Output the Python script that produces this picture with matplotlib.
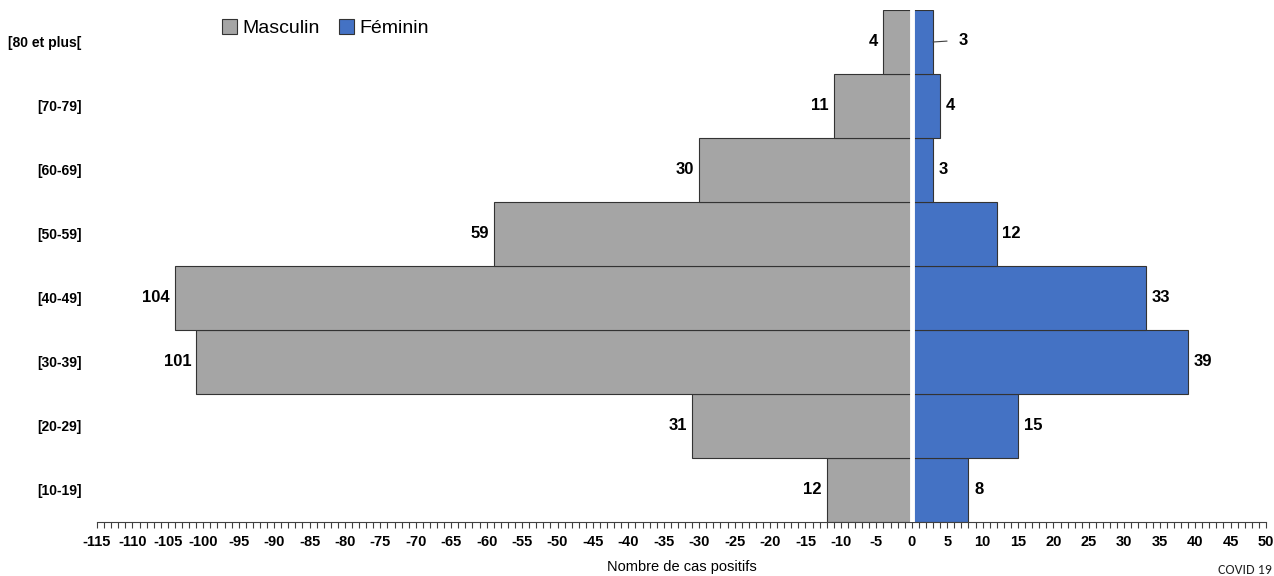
import numpy as np
import matplotlib.pyplot as plt
from matplotlib.ticker import MultipleLocator

ages = ['[10-19]', '[20-29]', '[30-39]', '[40-49]', '[50-59]', '[60-69]', '[70-79]', '[80 et plus[']
masculin = [12, 31, 101, 104, 59, 30, 11, 4]
feminin = [8, 15, 39, 33, 12, 3, 4, 3]

gris = '#A5A5A5'
bleu = '#4472C4'
narrow = ['Liberation Sans Narrow', 'Liberation Sans', 'DejaVu Sans']

fig = plt.figure(figsize=(12.74, 5.76), dpi=100)
ax = fig.add_axes([97/1274, 1 - 522/576, (1266 - 97)/1274, 512/576])

y = np.arange(len(ages))
m = -np.array(masculin)
f = np.array(feminin)
ax.barh(y, m, height=1.0, color=gris, edgecolor='#333333', linewidth=0.8, label='Masculin')
ax.barh(y, f, height=1.0, color=bleu, edgecolor='#333333', linewidth=0.8, label='Féminin')
ax.axvline(0, color='white', lw=3.5, zorder=5)

for yi, v in zip(y, masculin):
    ax.text(-v - 0.7, yi, str(v), ha='right', va='center', fontsize=12,
            fontweight='bold', family=narrow)
for yi, v in zip(y, feminin):
    if yi == len(ages) - 1:
        # leader line for the small top label
        ax.annotate(str(v), xy=(v, yi), xytext=(v + 4.2, yi + 0.03),
                    ha='center', va='center', fontsize=12, fontweight='bold',
                    family=narrow,
                    arrowprops=dict(arrowstyle='-', color='#404040', lw=0.8,
                                    shrinkA=6, shrinkB=0))
    else:
        ax.text(v + 0.8, yi, str(v), ha='left', va='center', fontsize=12,
                fontweight='bold', family=narrow)

ax.set_xlim(-115, 50)
ax.set_ylim(-0.5, len(ages) - 0.5)
ax.xaxis.set_minor_locator(MultipleLocator(1))
ticks = np.arange(-115, 51, 5)
ax.set_xticks(ticks)
ax.set_xticklabels([str(t) for t in ticks], fontsize=10.5, fontweight='bold', family=narrow)
ax.tick_params(axis='x', which='both', length=4, width=0.8, color='#404040', pad=5)
ax.set_yticks(y)
ax.set_yticklabels(ages, fontsize=10, fontweight='bold', family=narrow)
ax.tick_params(axis='y', length=0, pad=11)

for s in ['top', 'right', 'left']:
    ax.spines[s].set_visible(False)
ax.spines['bottom'].set_color('#404040')

ax.set_xlabel('Nombre de cas positifs', fontsize=10.5, family=narrow, labelpad=8)

ax.legend(loc='upper left', bbox_to_anchor=(0.092, 1.016), ncol=2, frameon=False,
          prop={'family': 'Liberation Sans', 'size': 14}, handlelength=0.75,
          handleheight=0.75, handletextpad=0.3, columnspacing=1.0)

fig.text(0.998, 0.0, 'COVID 19', fontsize=10, color='#222222', ha='right', va='bottom',
         family=['Carlito', 'Liberation Sans', 'DejaVu Sans'])

fig.savefig('out.png', dpi=100)
